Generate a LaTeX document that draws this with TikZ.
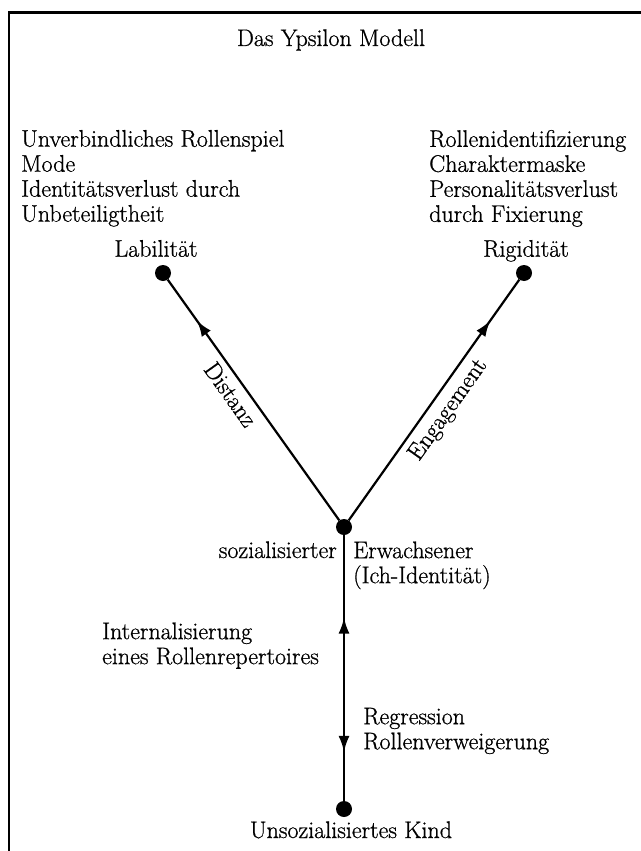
\documentclass[tikz,border=0pt]{standalone}
\usepackage{fontspec}
\setmainfont{Latin Modern Roman}[FakeBold=0.8]
\usetikzlibrary{arrows.meta,decorations.markings}
\begin{document}
\begin{tikzpicture}[x=1pt,y=-1pt,
  every node/.style={font=\fontsize{24}{25}\selectfont, inner sep=0pt},
  dot/.style={circle, fill=black, minimum size=16pt, inner sep=0pt},
  conn/.style={line width=2.2pt},
  midarrow/.style={postaction={decorate}, decoration={markings, mark=at position #1 with {\arrow{Latex[length=16pt,width=11pt]}}}},
  vertarrows/.style={postaction={decorate}, decoration={markings,
     mark=at position 0.184 with {\arrowreversed{Latex[length=16pt,width=11pt]}},
     mark=at position 0.69 with {\arrow{Latex[length=16pt,width=11pt]}}}},
  slopelbl/.style={sloped, below, inner ysep=6pt},
]
\useasboundingbox (0,0) rectangle (640,851);
\fill[white] (0,0) rectangle (640,851);
\draw[line width=2.5pt] (9,870) |- (660,12.5);

\node[anchor=base] (title) at (331,46) {Das Ypsilon Modell};

\node[anchor=north west, align=left] (lb) at (21,129.8)
  {Unverbindliches Rollenspiel\\Mode\\Identitätsverlust durch\\Unbeteiligtheit};
\node[anchor=north west, align=left] (rb) at (429,129.8)
  {Rollenidentifizierung\\Charaktermaske\\Personalitätsverlust\\durch Fixierung};

\node[anchor=base] (labt) at (156,256.7) {Labilität};
\node[anchor=base] (rigt) at (526,256.7) {Rigidität};

\node[dot] (L) at (163,273) {};
\node[dot] (R) at (524,273) {};
\node[dot] (C) at (344,527) {};
\node[dot] (B) at (344,809) {};

\draw[conn, midarrow=0.83] (C) -- (L) node[pos=0.56, slopelbl] (dist) {Distanz};
\draw[conn, midarrow=0.83] (C) -- (R) node[pos=0.5, slopelbl] (eng) {Engagement};
\draw[conn, vertarrows] (B) -- (C);

\node[anchor=base east] (soz) at (337,558) {sozialisierter};
\node[anchor=north west, align=left] (erw) at (353,541.3) {Erwachsener\\(Ich-Identität)};
\node[anchor=north west, align=left] (int) at (102,622.3) {Internalisierung\\eines Rollenrepertoires};
\node[anchor=north west, align=left] (reg) at (363,707.6) {Regression\\Rollenverweigerung};
\node[anchor=base] (kind) at (351,838) {Unsozialisiertes Kind};
\end{tikzpicture}
\end{document}
